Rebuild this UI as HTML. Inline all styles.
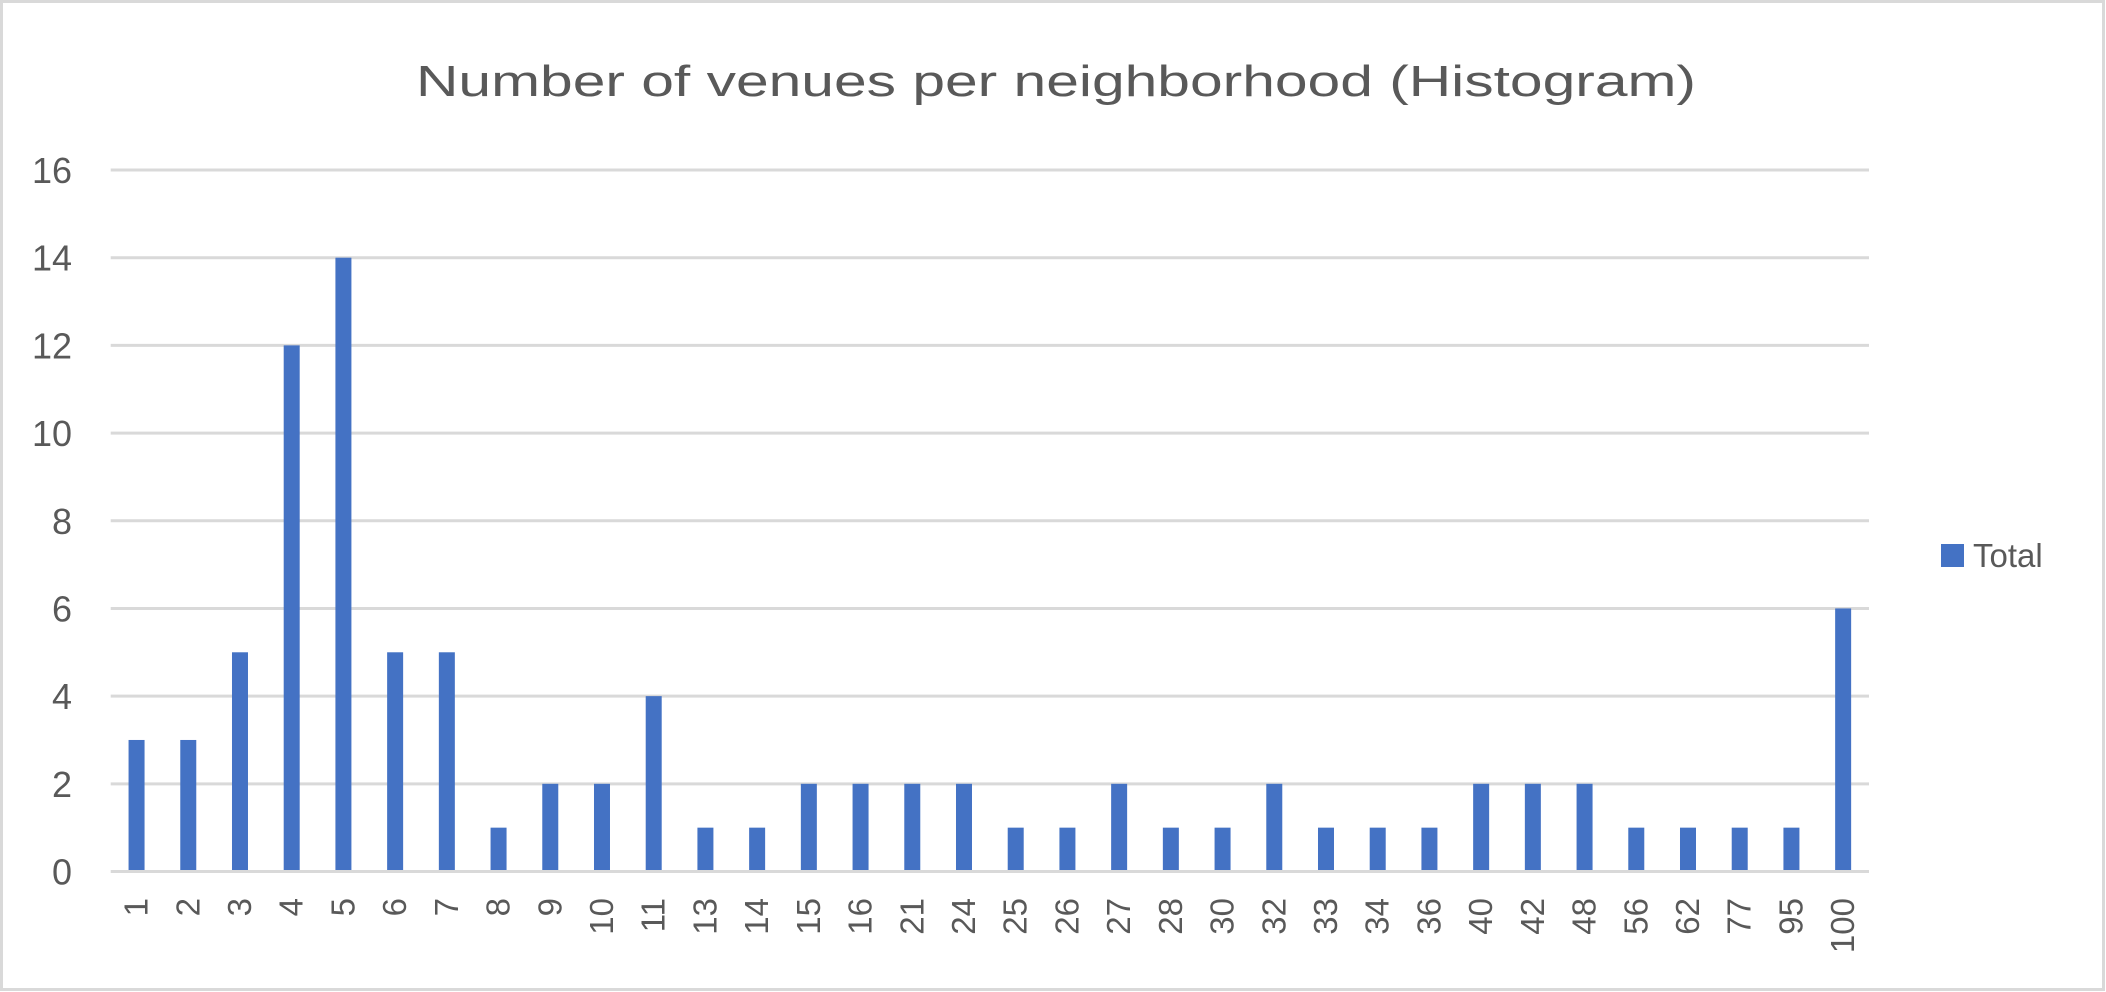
<!DOCTYPE html>
<html><head><meta charset="utf-8"><style>
html,body{margin:0;padding:0;background:#fff;}
svg{display:block;font-family:"Liberation Sans",sans-serif;}
</style></head><body>
<svg id="chart" width="2106" height="992" xmlns="http://www.w3.org/2000/svg">
<rect x="1.5" y="1.5" width="2102" height="988" fill="#fff" stroke="#d9d9d9" stroke-width="3"/>
<text x="1056" y="96" text-anchor="middle" font-size="44" fill="#595959" textLength="1280" lengthAdjust="spacingAndGlyphs">Number of venues per neighborhood (Histogram)</text>
<g id="grid"></g><g id="bars"></g><g id="xlabels"></g><g id="ylabels"></g>
<rect x="1941" y="544" width="23" height="23" fill="#4472c4"/>
<text x="1973" y="567" font-size="33" fill="#595959">Total</text>
</svg>
<script>
const categories = ["1","2","3","4","5","6","7","8","9","10","11","13","14","15","16","21","24","25","26","27","28","30","32","33","34","36","40","42","48","56","62","77","95","100"];
const values = [3,3,5,12,14,5,5,1,2,2,4,1,1,2,2,2,2,1,1,2,1,1,2,1,1,1,2,2,2,1,1,1,1,6];
const yTicks = [0,2,4,6,8,10,12,14,16];
const NS="http://www.w3.org/2000/svg";
const plotLeft=110.7,plotRight=1869,plotTop=170,plotBottom=871.5,yMax=16;
const bw=(plotRight-plotLeft)/categories.length;
function xPos(i){return plotLeft+bw*(i+0.5);}
function yPos(v){return plotBottom-(plotBottom-plotTop)*v/yMax;}
function mk(tag,attrs,parent){const e=document.createElementNS(NS,tag);for(const k in attrs)e.setAttribute(k,attrs[k]);parent.appendChild(e);return e;}
const grid=document.getElementById('grid'),bars=document.getElementById('bars'),xl=document.getElementById('xlabels'),yl=document.getElementById('ylabels');
yTicks.forEach(t=>{
  const l=mk('line',{x1:plotLeft,x2:plotRight,y1:yPos(t),y2:yPos(t),stroke:'#d9d9d9','stroke-width':3},grid);
  
  
  const tx=mk('text',{x:72,y:yPos(t)+13,'text-anchor':'end','font-size':36,fill:'#595959'},yl);
  tx.textContent=t;
  
  
});
categories.forEach((c,i)=>{
  const r=mk('rect',{x:xPos(i)-8,y:yPos(values[i]),width:16,height:plotBottom-1.5-yPos(values[i]),fill:'#4472c4'},bars);
  
  
  const tx=mk('text',{transform:'translate('+(xPos(i)+11)+',898) rotate(-90)','text-anchor':'end','font-size':33,fill:'#595959'},xl);
  tx.textContent=c;
  
  
});
</script>
</body></html>
